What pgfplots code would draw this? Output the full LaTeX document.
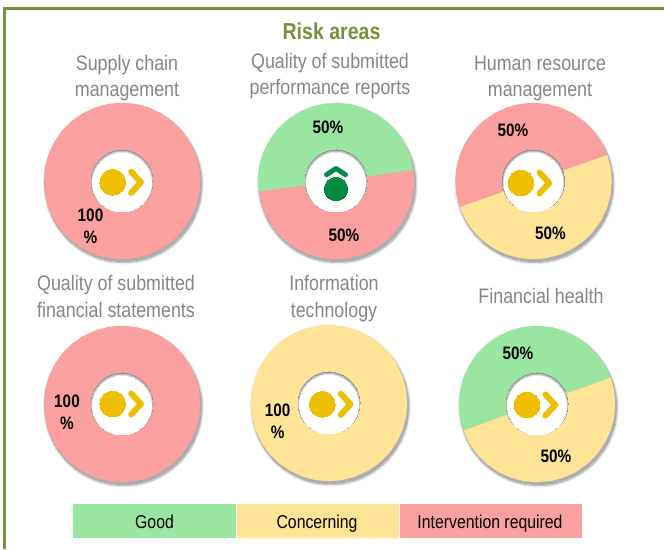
\documentclass[border=0pt]{standalone}
\usepackage{fontspec}
\setmainfont[FakeStretch=0.85]{Liberation Sans}
\usepackage{pgfplots}
\pgfplotsset{compat=1.18}

\definecolor{good}{RGB}{152,230,160}
\definecolor{concern}{RGB}{255,227,150}
\definecolor{interv}{RGB}{250,160,160}
\definecolor{olive}{RGB}{118,146,60}
\definecolor{greytxt}{RGB}{134,134,134}
\definecolor{amber}{RGB}{237,191,0}
\definecolor{darkgreen}{RGB}{0,140,69}

% slices are in polar form (angle, radius), placed with a shift; 1 unit = 1pt
\newcommand{\slice}[4]{\addplot[shift={(#1pt,#2pt)},data cs=polar,fill=#3,draw=none] coordinates {#4};}
% x, y, radius, colour
\newcommand{\disc}[4]{\addplot[only marks,mark=*,mark size=#3pt,mark options={draw=#4,fill=#4,line width=0pt}] coordinates {(#1,#2)};}
% drop shadow under a donut
\newcommand{\dshadow}[2]{%
  \disc{#1+1.5}{#2-3}{80.2}{black!3}
  \disc{#1+1.5}{#2-3}{79.6}{black!8}
  \disc{#1+1.5}{#2-3}{79}{black!15}
  \disc{#1+1.5}{#2-3}{78.4}{black!24}
  \disc{#1+1.2}{#2-2.2}{78.1}{black!32}
}
% hole with inner shadow at the top
\newcommand{\dhole}[2]{%
  \disc{#1}{#2}{31}{black!42}
  \disc{#1}{#2-0.6}{30.4}{black!26}
  \disc{#1}{#2-1.2}{29.8}{black!12}
  \disc{#1}{#2-1.7}{29.3}{white}
}
% sideways icon: circle then chevron
\newcommand{\sideicon}[2]{%
  \disc{#1}{#2}{12.9}{amber}
  \addplot[amber,line width=6pt,line cap=round,line join=round] coordinates {(#1+18.5,#2+10.5)(#1+28.2,#2)(#1+18.5,#2-10.5)};
}
\newcommand{\vallab}[3]{\node[anchor=base,font=\fontsize{18}{20}\selectfont\bfseries,text=black,inner sep=0pt] at (axis cs:#1,#2) {#3};}
\newcommand{\ttl}[3]{\node[anchor=base,font=\fontsize{21}{24}\selectfont,text=greytxt,inner sep=0pt] at (axis cs:#1,#2) {#3};}
\newcommand{\legtxt}[3]{\node[anchor=base,font=\fontsize{18.6}{22}\selectfont,text=black,inner sep=0pt] at (axis cs:#1,#2) {#3};}

\begin{document}
\begin{tikzpicture}
\begin{axis}[
    scale only axis,
    width=664pt, height=549pt,
    xmin=0, xmax=664, ymin=0, ymax=549,
    hide axis,
    clip=true,
    clip marker paths=true,
]
\addplot[fill=white,draw=none] coordinates {(0,0)(664,0)(664,549)(0,549)};
% frame, open to the right and at the bottom
\addplot[olive,line width=3.4pt] coordinates {(4.7,0)(4.7,540.4)(664,540.4)};

% supply chain
\dshadow{122}{368}
\slice{122}{368}{interv}{(0,78.3)(10,78.3)(20,78.3)(30,78.3)(40,78.3)(50,78.3)(60,78.3)(70,78.3)(80,78.3)(90,78.3)(100,78.3)(110,78.3)(120,78.3)(130,78.3)(140,78.3)(150,78.3)(160,78.3)(170,78.3)(180,78.3)(190,78.3)(200,78.3)(210,78.3)(220,78.3)(230,78.3)(240,78.3)(250,78.3)(260,78.3)(270,78.3)(280,78.3)(290,78.3)(300,78.3)(310,78.3)(320,78.3)(330,78.3)(340,78.3)(350,78.3)}
\dhole{122}{368}
\sideicon{112.7}{366.7}

% performance reports
\dshadow{336}{368}
\slice{336}{368}{good}{(8,78.3)(18,78.3)(28,78.3)(38,78.3)(48,78.3)(58,78.3)(68,78.3)(78,78.3)(88,78.3)(98,78.3)(108,78.3)(118,78.3)(128,78.3)(138,78.3)(148,78.3)(158,78.3)(168,78.3)(178,78.3)(188,78.3)}
\slice{336}{368}{interv}{(188,78.3)(198,78.3)(208,78.3)(218,78.3)(228,78.3)(238,78.3)(248,78.3)(258,78.3)(268,78.3)(278,78.3)(288,78.3)(298,78.3)(308,78.3)(318,78.3)(328,78.3)(338,78.3)(348,78.3)(358,78.3)(368,78.3)}
\dhole{336}{368}
\disc{336}{360}{11.7}{darkgreen}
\addplot[darkgreen,line width=5pt,line cap=round,line join=round] coordinates {(326.5,374.3)(336,380.5)(345.5,374.3)};

% human resources
\dshadow{533.5}{368}
\slice{533.5}{368}{interv}{(19.5,78.3)(29.5,78.3)(39.5,78.3)(49.5,78.3)(59.5,78.3)(69.5,78.3)(79.5,78.3)(89.5,78.3)(99.5,78.3)(109.5,78.3)(119.5,78.3)(129.5,78.3)(139.5,78.3)(149.5,78.3)(159.5,78.3)(169.5,78.3)(179.5,78.3)(189.5,78.3)(199.5,78.3)}
\slice{533.5}{368}{concern}{(199.5,78.3)(209.5,78.3)(219.5,78.3)(229.5,78.3)(239.5,78.3)(249.5,78.3)(259.5,78.3)(269.5,78.3)(279.5,78.3)(289.5,78.3)(299.5,78.3)(309.5,78.3)(319.5,78.3)(329.5,78.3)(339.5,78.3)(349.5,78.3)(359.5,78.3)(369.5,78.3)(379.5,78.3)}
\dhole{533.5}{368}
\sideicon{521}{366}

% financial statements
\dshadow{122}{145}
\slice{122}{145}{interv}{(0,78.3)(10,78.3)(20,78.3)(30,78.3)(40,78.3)(50,78.3)(60,78.3)(70,78.3)(80,78.3)(90,78.3)(100,78.3)(110,78.3)(120,78.3)(130,78.3)(140,78.3)(150,78.3)(160,78.3)(170,78.3)(180,78.3)(190,78.3)(200,78.3)(210,78.3)(220,78.3)(230,78.3)(240,78.3)(250,78.3)(260,78.3)(270,78.3)(280,78.3)(290,78.3)(300,78.3)(310,78.3)(320,78.3)(330,78.3)(340,78.3)(350,78.3)}
\dhole{122}{145}
\sideicon{112.7}{145}

% information technology
\dshadow{329}{146}
\slice{329}{146}{concern}{(0,78.3)(10,78.3)(20,78.3)(30,78.3)(40,78.3)(50,78.3)(60,78.3)(70,78.3)(80,78.3)(90,78.3)(100,78.3)(110,78.3)(120,78.3)(130,78.3)(140,78.3)(150,78.3)(160,78.3)(170,78.3)(180,78.3)(190,78.3)(200,78.3)(210,78.3)(220,78.3)(230,78.3)(240,78.3)(250,78.3)(260,78.3)(270,78.3)(280,78.3)(290,78.3)(300,78.3)(310,78.3)(320,78.3)(330,78.3)(340,78.3)(350,78.3)}
\dhole{329}{146}
\sideicon{322.3}{144.7}

% financial health
\dshadow{537}{145}
\slice{537}{145}{good}{(19.8,78.3)(29.8,78.3)(39.8,78.3)(49.8,78.3)(59.8,78.3)(69.8,78.3)(79.8,78.3)(89.8,78.3)(99.8,78.3)(109.8,78.3)(119.8,78.3)(129.8,78.3)(139.8,78.3)(149.8,78.3)(159.8,78.3)(169.8,78.3)(179.8,78.3)(189.8,78.3)(199.8,78.3)}
\slice{537}{145}{concern}{(199.8,78.3)(209.8,78.3)(219.8,78.3)(229.8,78.3)(239.8,78.3)(249.8,78.3)(259.8,78.3)(269.8,78.3)(279.8,78.3)(289.8,78.3)(299.8,78.3)(309.8,78.3)(319.8,78.3)(329.8,78.3)(339.8,78.3)(349.8,78.3)(359.8,78.3)(369.8,78.3)(379.8,78.3)}
\dhole{537}{145}
\sideicon{527}{144}

% legend blocks
\addplot[fill=good,draw=none] coordinates {(73.3,11)(235.8,11)(235.8,45)(73.3,45)};
\addplot[fill=concern,draw=none] coordinates {(237,11)(398.5,11)(398.5,45)(237,45)};
\addplot[fill=interv,draw=none] coordinates {(399.7,11)(582,11)(582,45)(399.7,45)};
\legtxt{154.5}{20}{Good}
\legtxt{317}{20}{Concerning}
\legtxt{490}{20}{Intervention required}

% titles
\node[anchor=base,font=\fontsize{23}{26}\selectfont\bfseries,text=olive,inner sep=0pt] at (axis cs:331.5,509) {Risk areas};
\ttl{127}{478}{Supply chain}
\ttl{127}{452}{management}
\ttl{330}{480.5}{Quality of submitted}
\ttl{330}{454.5}{performance reports}
\ttl{540}{478}{Human resource}
\ttl{540}{452}{management}
\ttl{116}{258}{Quality of submitted}
\ttl{116}{231.5}{financial statements}
\ttl{334}{258}{Information}
\ttl{334}{231.5}{technology}
\ttl{541}{245}{Financial health}

% value labels
\vallab{328}{415.5}{50\%}
\vallab{344}{307.3}{50\%}
\vallab{513}{412}{50\%}
\vallab{550.5}{309}{50\%}
\vallab{518}{189}{50\%}
\vallab{556}{86}{50\%}
\vallab{90.5}{327}{100}
\vallab{90.5}{305}{\%}
\vallab{67}{141}{100}
\vallab{67}{119}{\%}
\vallab{277.6}{132}{100}
\vallab{277.6}{110}{\%}
\end{axis}
\end{tikzpicture}
\end{document}
